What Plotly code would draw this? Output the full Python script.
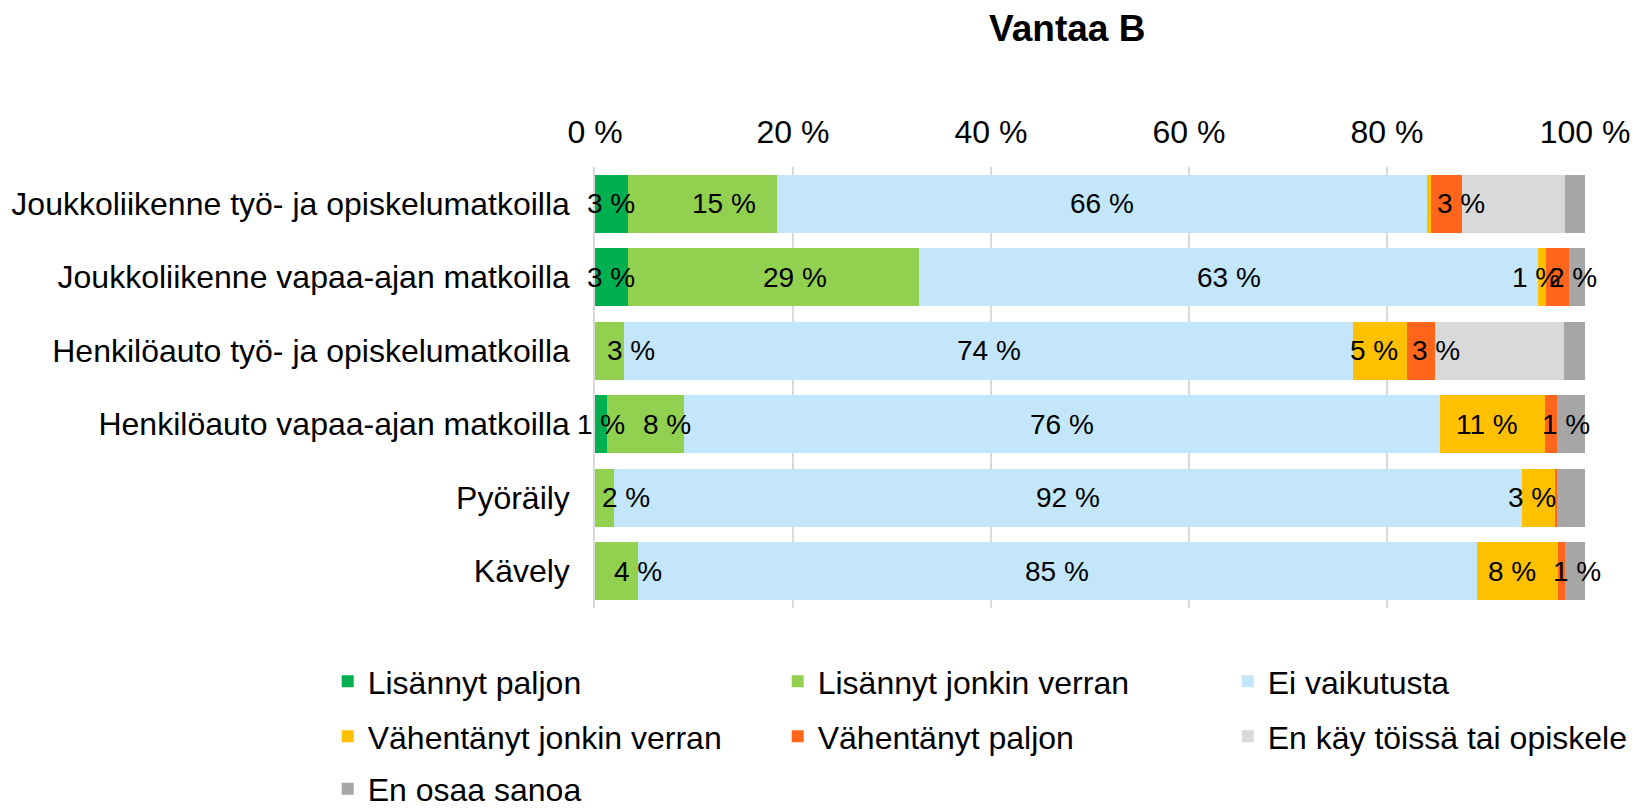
import plotly.graph_objects as go

# ---- data ----
categories = [
    "Joukkoliikenne työ- ja opiskelumatkoilla",
    "Joukkoliikenne vapaa-ajan matkoilla",
    "Henkilöauto työ- ja opiskelumatkoilla",
    "Henkilöauto vapaa-ajan matkoilla",
    "Pyöräily",
    "Kävely",
]
series_names = [
    "Lisännyt paljon",
    "Lisännyt jonkin verran",
    "Ei vaikutusta",
    "Vähentänyt jonkin verran",
    "Vähentänyt paljon",
    "En käy töissä tai opiskele",
    "En osaa sanoa",
]
lisannyt_paljon = [3.3, 3.3, 0.0, 1.2, 0.0, 0.0]
lisannyt_jonkin = [15.1, 29.4, 2.9, 7.8, 1.9, 4.3]
ei_vaikutusta = [65.6, 62.6, 73.7, 76.4, 91.7, 84.8]
vahentanyt_jonkin = [0.4, 0.8, 5.4, 10.6, 3.4, 8.2]
vahentanyt_paljon = [3.2, 2.3, 2.8, 1.2, 0.2, 0.7]
en_kay = [10.4, 0.0, 13.1, 0.0, 0.0, 0.0]
en_osaa = [2.0, 1.6, 2.1, 2.8, 2.8, 2.0]

# shown data labels per series (empty = no label)
labels_lisannyt_paljon = ["3 %", "3 %", "", "1 %", "", ""]
labels_lisannyt_jonkin = ["15 %", "29 %", "3 %", "8 %", "2 %", "4 %"]
labels_ei_vaikutusta = ["66 %", "63 %", "74 %", "76 %", "92 %", "85 %"]
labels_vahentanyt_jonkin = ["", "1 %", "5 %", "11 %", "3 %", "8 %"]
labels_vahentanyt_paljon = ["3 %", "2 %", "3 %", "1 %", "", "1 %"]
labels_en_kay = ["", "", "", "", "", ""]
labels_en_osaa = ["", "", "", "", "", ""]

tick_values = [0, 20, 40, 60, 80, 100]
tick_labels = ["0 %", "20 %", "40 %", "60 %", "80 %", "100 %"]

# ---- styles ----
colors = ["#00B050", "#92D050", "#C3E6FB", "#FFC000", "#FF661C", "#D9D9D9", "#A6A6A6"]
label_xshift = [0, 22, 0, -6, 15, 0, 0]          # per-series label nudge (px)
legend_ids = ["legend", "legend", "legend", "legend2", "legend2", "legend2", "legend3"]

values = [lisannyt_paljon, lisannyt_jonkin, ei_vaikutusta, vahentanyt_jonkin,
          vahentanyt_paljon, en_kay, en_osaa]
labels = [labels_lisannyt_paljon, labels_lisannyt_jonkin, labels_ei_vaikutusta,
          labels_vahentanyt_jonkin, labels_vahentanyt_paljon, labels_en_kay, labels_en_osaa]

FONT = "Arial, 'Liberation Sans', sans-serif"
OFF = 8  # default page body margin
W, H = 1638 - OFF, 809 - OFF
ML, MR, MT, MB = 595 - OFF, 53, 167 - OFF, 201
LABEL_SIZE = 28

fig = go.Figure()
for name, vals, col, lg in zip(series_names, values, colors, legend_ids):
    fig.add_trace(go.Bar(
        y=categories, x=vals, name=name, orientation="h",
        marker=dict(color=col, line=dict(width=0)),
        legend=lg, hoverinfo="name+x",
    ))

annotations = []
cum = [0.0] * len(categories)
for vals, labs, dx in zip(values, labels, label_xshift):
    for i, (v, t) in enumerate(zip(vals, labs)):
        if t:
            annotations.append(dict(x=cum[i] + v / 2.0, y=categories[i], text=t,
                                    showarrow=False, xanchor="center", xshift=dx,
                                    font=dict(size=LABEL_SIZE, color="black", family=FONT)))
        cum[i] += v

legend_common = dict(orientation="h", traceorder="normal", xref="paper", yref="paper",
                     x=-0.270, xanchor="left", yanchor="top",
                     entrywidth=405, entrywidthmode="pixels",
                     font=dict(size=32, family=FONT, color="black"),
                     bgcolor="rgba(0,0,0,0)")
plot_h = H - MT - MB
row_step = 55.0 / plot_h
y0 = -0.11 + 2.5 / plot_h

fig.update_layout(
    width=W, height=H,
    barmode="stack", bargap=0.21,
    paper_bgcolor="white", plot_bgcolor="white",
    margin=dict(l=ML, r=MR, t=MT, b=MB, autoexpand=False),
    font=dict(family=FONT, color="black", size=32),
    title=dict(text="<b>Vantaa B</b>", x=0.477, xref="paper", xanchor="center",
               y=1 - (28 - OFF) / H, yref="container", yanchor="middle",
               font=dict(size=37, family=FONT, color="black")),
    xaxis=dict(side="top", range=[0, 100], tickvals=tick_values, ticktext=tick_labels,
               showgrid=True, gridcolor="#D9D9D9", gridwidth=1.5, zeroline=False,
               showline=False, ticks="", ticklabelstandoff=17,
               tickfont=dict(size=32, family=FONT, color="black"), fixedrange=True),
    yaxis=dict(autorange="reversed", showgrid=False, showline=True, linecolor="#D9D9D9",
               linewidth=1.5, ticks="", ticklabelstandoff=17,
               tickfont=dict(size=32, family=FONT, color="black"), fixedrange=True),
    legend=dict(legend_common, y=y0),
    legend2=dict(legend_common, y=y0 - row_step),
    legend3=dict(legend_common, y=y0 - 2 * row_step + 2.5 / plot_h),
    annotations=annotations,
    showlegend=True,
)

fig.write_html("out.html")
